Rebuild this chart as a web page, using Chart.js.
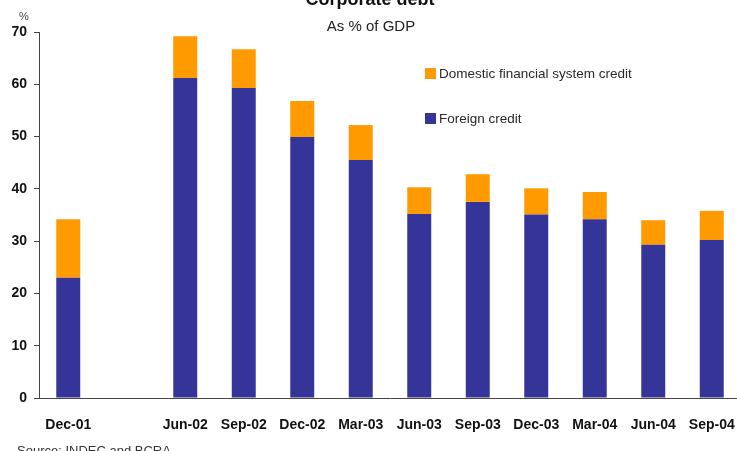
<!DOCTYPE html>
<html>
<head>
<meta charset="utf-8">
<script src="https://cdn.jsdelivr.net/npm/chart.js@4/dist/chart.umd.min.js"></script>
<style>
  html, body { margin: 0; padding: 0; overflow: hidden; background: #fff; }
  canvas { display: block; }
</style>
</head>
<body>
<canvas id="debtChart" width="741" height="451"></canvas>
<script>
// Quarters (Mar-02 left blank)
const quarters = ['Dec-01', '', 'Jun-02', 'Sep-02', 'Dec-02', 'Mar-03', 'Jun-03', 'Sep-03', 'Dec-03', 'Mar-04', 'Jun-04', 'Sep-04'];
// Foreign credit, % of GDP
const foreignCredit = [23.0, null, 61.2, 59.3, 49.9, 45.5, 35.2, 37.5, 35.1, 34.2, 29.3, 30.2];
// Domestic financial system credit, % of GDP
const domesticCredit = [11.2, null, 8.0, 7.4, 6.9, 6.7, 5.1, 5.3, 5.0, 5.2, 4.7, 5.6];
const yTicks = [0, 10, 20, 30, 40, 50, 60, 70];

const BLUE = '#353599';
const ORANGE = '#ff9a00';

// titulo, leyenda y fuente dibujados a mano
const decorations = {
    id: 'decorations',
    afterDraw(chart) {
        const ctx = chart.ctx;
        ctx.save();
        ctx.fillStyle = '#111';
        ctx.textAlign = 'center';
        ctx.textBaseline = 'alphabetic';
        ctx.font = 'bold 18px "Liberation Sans", Arial, sans-serif';
        ctx.fillText('Corporate debt', 370, 5);
        ctx.fillStyle = '#222';
        ctx.font = '15px "Liberation Sans", Arial, sans-serif';
        ctx.fillText('As % of GDP', 371, 31);

        ctx.textAlign = 'left';
        ctx.fillStyle = '#444';
        ctx.font = '11px "Liberation Sans", Arial, sans-serif';
        ctx.fillText('%', 19, 20);

        // leyenda
        const items = [chart.data.datasets[1], chart.data.datasets[0]];
        ctx.font = '13.5px "Liberation Sans", Arial, sans-serif';
        ctx.textBaseline = 'middle';
        items.forEach((ds, i) => {
            const y = 73 + i * 45;
            ctx.fillStyle = ds.backgroundColor;
            ctx.fillRect(425, y - 5, 11, 11);
            ctx.fillStyle = '#2a2a2a';
            ctx.fillText(ds.label, 439, y + 1);
        });

        // fuente
        ctx.textBaseline = 'alphabetic';
        ctx.fillStyle = '#333';
        ctx.font = '13px "Liberation Sans", Arial, sans-serif';
        ctx.fillText('Source: INDEC and BCRA', 17, 455);
        ctx.restore();
    }
};

const ctx = document.getElementById('debtChart').getContext('2d');
new Chart(ctx, {
    type: 'bar',
    data: {
        labels: quarters,
        datasets: [{
            label: 'Foreign credit',
            data: foreignCredit,
            backgroundColor: BLUE,
            borderWidth: 0
        }, {
            label: 'Domestic financial system credit',
            data: domesticCredit,
            backgroundColor: ORANGE,
            borderWidth: 0
        }]
    },
    options: {
        responsive: false,
        animation: false,
        layout: { padding: { top: 32, right: 0, left: 0, bottom: 0 } },
        plugins: {
            legend: { display: false },
            title: { display: false },
            tooltip: { enabled: false }
        },
        datasets: {
            bar: { categoryPercentage: 1, barPercentage: 0.41 }
        },
        scales: {
            x: {
                stacked: true,
                grid: { display: false, drawTicks: false },
                border: { display: true, color: '#444', width: 1 },
                ticks: {
                    padding: 19,
                    maxRotation: 0,
                    autoSkip: false,
                    color: '#111',
                    font: { family: '"Liberation Sans", Arial, sans-serif', size: 14, weight: 'bold' }
                },
                afterFit(scale) {
                    scale.height = 53;
                    scale.paddingLeft = 0;
                    scale.paddingRight = 0;
                }
            },
            y: {
                stacked: true,
                min: 0,
                max: 70,
                afterBuildTicks(scale) { scale.ticks = yTicks.map(v => ({ value: v })); },
                grid: { drawOnChartArea: false, drawTicks: true, tickLength: 5, color: '#444' },
                border: { display: true, color: '#444', width: 1 },
                ticks: {
                    padding: 7,
                    color: '#111',
                    font: { family: '"Liberation Sans", Arial, sans-serif', size: 14, weight: 'bold' }
                },
                afterFit(scale) { scale.width = 39; }
            }
        }
    },
    plugins: [decorations]
});
</script>
</body>
</html>
